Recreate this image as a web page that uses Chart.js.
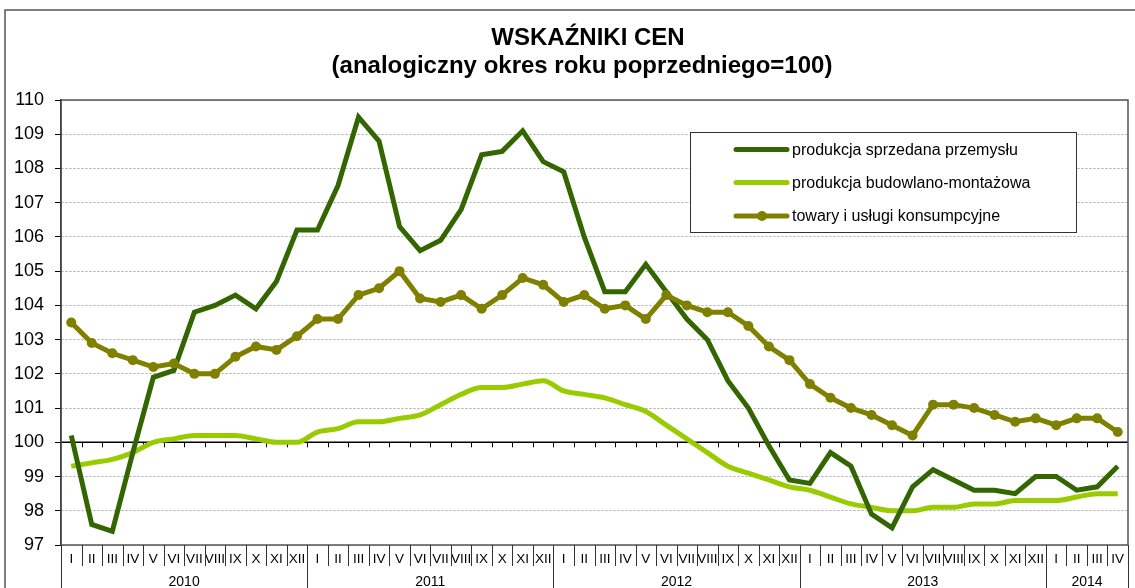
<!DOCTYPE html>
<html lang="pl">
<head>
<meta charset="UTF-8">
<title>Wskaźniki cen</title>
<style>
  html, body { margin: 0; padding: 0; background: #fff; }
  #wrap { position: relative; width: 1135px; height: 588px; }
</style>
<script src="https://cdn.jsdelivr.net/npm/chart.js"></script>
</head>
<body>
<div id="wrap"><canvas id="chart" width="1135" height="588"></canvas></div>
<script>
// roman month numerals, years and how many months each year shows
const romans = ['I', 'II', 'III', 'IV', 'V', 'VI', 'VII', 'VIII', 'IX', 'X', 'XI', 'XII'];
const years = ['2010', '2011', '2012', '2013', '2014'];
const monthsPerYear = [12, 12, 12, 12, 4];

// produkcja sprzedana przemysłu
const industry = [
    100.2, 97.6, 97.4, 99.7, 101.9, 102.1, 103.8, 104.0, 104.3, 103.9, 104.7, 106.2,
    106.2, 107.5, 109.5, 108.8, 106.3, 105.6, 105.9, 106.8, 108.4, 108.5, 109.1, 108.2,
    107.9, 106.0, 104.4, 104.4, 105.2, 104.4, 103.6, 103.0, 101.8, 101.0, 99.9, 98.9,
    98.8, 99.7, 99.3, 97.9, 97.5, 98.7, 99.2, 98.9, 98.6, 98.6, 98.5, 99.0,
    99.0, 98.6, 98.7, 99.3
];
// produkcja budowlano-montażowa
const construction = [
    99.3, 99.4, 99.5, 99.7, 100.0, 100.1, 100.2, 100.2, 100.2, 100.1, 100.0, 100.0,
    100.3, 100.4, 100.6, 100.6, 100.7, 100.8, 101.1, 101.4, 101.6, 101.6, 101.7, 101.8,
    101.5, 101.4, 101.3, 101.1, 100.9, 100.5, 100.1, 99.7, 99.3, 99.1, 98.9, 98.7,
    98.6, 98.4, 98.2, 98.1, 98.0, 98.0, 98.1, 98.1, 98.2, 98.2, 98.3, 98.3,
    98.3, 98.4, 98.5, 98.5
];
// towary i usługi konsumpcyjne
const consumer = [
    103.5, 102.9, 102.6, 102.4, 102.2, 102.3, 102.0, 102.0, 102.5, 102.8, 102.7, 103.1,
    103.6, 103.6, 104.3, 104.5, 105.0, 104.2, 104.1, 104.3, 103.9, 104.3, 104.8, 104.6,
    104.1, 104.3, 103.9, 104.0, 103.6, 104.3, 104.0, 103.8, 103.8, 103.4, 102.8, 102.4,
    101.7, 101.3, 101.0, 100.8, 100.5, 100.2, 101.1, 101.1, 101.0, 100.8, 100.6, 100.7,
    100.5, 100.7, 100.7, 100.3
];

const categories = years.flatMap((y, i) => romans.slice(0, monthsPerYear[i]));

const FONT = 'Arial, "Liberation Sans", sans-serif';

// title, frame, 100-line, two-level x axis and legend
const decor = {
    id: 'decor',
    beforeDatasetsDraw(chart) {
        const {ctx, chartArea: a, scales: {y}} = chart;
        const step = (a.right - a.left) / categories.length;
        const y100 = y.getPixelForValue(100);

        ctx.save();
        ctx.strokeStyle = '#000';
        ctx.lineWidth = 1.5;
        ctx.beginPath();
        ctx.moveTo(a.left, y100);
        ctx.lineTo(a.right, y100);
        ctx.stroke();

        ctx.lineWidth = 1;
        ctx.beginPath();
        for (let k = 1; k < categories.length; k++) {
            const px = Math.round(a.left + k * step) + 0.5;
            ctx.moveTo(px, y100);
            ctx.lineTo(px, y100 + 5);
        }
        ctx.stroke();

        // plot box
        ctx.strokeStyle = '#555';
        ctx.lineWidth = 1.5;
        ctx.strokeRect(a.left, a.top, a.right - a.left, a.bottom - a.top);
        ctx.restore();
    },
    afterDraw(chart) {
        const {ctx, chartArea: a, width, height} = chart;
        const step = (a.right - a.left) / categories.length;
        ctx.save();

        // outer frame
        ctx.strokeStyle = '#555';
        ctx.lineWidth = 1.5;
        ctx.beginPath();
        ctx.moveTo(5, height);
        ctx.lineTo(5, 10);
        ctx.lineTo(width, 10);
        ctx.stroke();

        // title
        ctx.fillStyle = '#000';
        ctx.textAlign = 'center';
        ctx.textBaseline = 'middle';
        ctx.font = 'bold 24px ' + FONT;
        ctx.fillText('WSKAŹNIKI CEN', 588, 38);
        ctx.fillText('(analogiczny okres roku poprzedniego=100)', 582, 66);

        // month separators and year groups
        ctx.strokeStyle = '#333';
        ctx.lineWidth = 1;
        ctx.beginPath();
        let k = 0;
        const bounds = [0];
        monthsPerYear.forEach(n => { k += n; bounds.push(k); });
        for (let i = 0; i <= categories.length; i++) {
            const px = Math.round(a.left + i * step) + 0.5;
            ctx.moveTo(px, a.bottom);
            ctx.lineTo(px, bounds.includes(i) ? height : a.bottom + 21);
        }
        ctx.stroke();

        ctx.font = '14px ' + FONT;
        years.forEach((yr, i) => {
            const cx = a.left + (bounds[i] + bounds[i + 1]) / 2 * step;
            ctx.fillText(yr, cx, 582);
        });

        // legend
        const lx = 690, ly = 132, lw = 386, lh = 100;
        ctx.fillStyle = '#fff';
        ctx.fillRect(lx, ly, lw, lh);
        ctx.strokeStyle = '#333';
        ctx.lineWidth = 1;
        ctx.strokeRect(lx + 0.5, ly + 0.5, lw, lh);
        const legendOrder = [0, 1, 2];
        const rowY = [149.5, 182.5, 216];
        ctx.textAlign = 'left';
        ctx.font = '16px ' + FONT;
        legendOrder.forEach((di, r) => {
            const ds = chart.data.datasets[di];
            ctx.strokeStyle = ds.borderColor;
            ctx.lineWidth = 5;
            ctx.lineCap = 'round';
            ctx.beginPath();
            ctx.moveTo(736, rowY[r]);
            ctx.lineTo(787, rowY[r]);
            ctx.stroke();
            if (ds.pointRadius > 0) {
                ctx.fillStyle = ds.borderColor;
                ctx.beginPath();
                ctx.arc(762, rowY[r], ds.pointRadius, 0, Math.PI * 2);
                ctx.fill();
            }
            ctx.fillStyle = '#000';
            ctx.fillText(ds.label, 792, rowY[r] + 1);
        });
        ctx.restore();
    }
};

new Chart(document.getElementById('chart'), {
    type: 'line',
    data: {
        labels: categories,
        datasets: [
            {
                label: 'produkcja sprzedana przemysłu',
                data: industry,
                borderColor: '#336600',
                borderWidth: 5,
                pointRadius: 0,
                tension: 0,
                order: 1
            },
            {
                label: 'produkcja budowlano-montażowa',
                data: construction,
                borderColor: '#99cc00',
                borderWidth: 5,
                pointRadius: 0,
                cubicInterpolationMode: 'monotone',
                order: 2
            },
            {
                label: 'towary i usługi konsumpcyjne',
                data: consumer,
                borderColor: '#808000',
                backgroundColor: '#808000',
                borderWidth: 5,
                pointRadius: 5,
                pointBorderWidth: 0,
                pointBackgroundColor: '#808000',
                tension: 0,
                order: 0
            }
        ]
    },
    options: {
        responsive: false,
        animation: false,
        layout: { padding: { top: 100, right: 7, left: 0, bottom: 0 } },
        plugins: {
            legend: { display: false },
            title: { display: false },
            tooltip: { enabled: false }
        },
        scales: {
            x: {
                offset: true,
                grid: { display: false, drawTicks: false },
                border: { display: false },
                ticks: {
                    color: '#000',
                    font: { family: FONT, size: 13.5 },
                    padding: 6,
                    autoSkip: false,
                    maxRotation: 0,
                    minRotation: 0
                },
                afterFit(scale) { scale.height = 43; }
            },
            y: {
                min: 97,
                max: 110,
                ticks: {
                    stepSize: 1,
                    color: '#000',
                    font: { family: FONT, size: 18 },
                    padding: 11
                },
                grid: {
                    color: ctx => (ctx.tick && ctx.tick.value === 100) ? 'rgba(0,0,0,0)' : '#a8a8a8',
                    lineWidth: 1,
                    tickLength: 6,
                    tickColor: '#000',
                    tickWidth: 1
                },
                border: { display: true, color: '#000', width: 1.5, dash: [2, 2] },
                afterFit(scale) { scale.width = 61; }
            }
        }
    },
    plugins: [decor]
});
</script>
</body>
</html>
